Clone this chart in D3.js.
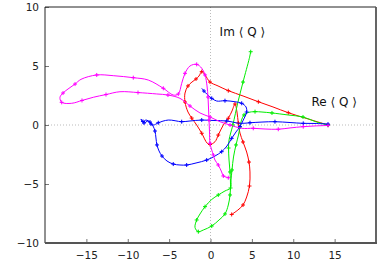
<!DOCTYPE html>
<html>
<head>
<meta charset="utf-8">
<script src="https://cdn.jsdelivr.net/npm/d3@7"></script>
<style>
  body { margin: 0; background: #fff; }
  svg { display: block; }
</style>
</head>
<body>
<div id="chart"></div>
<script>
// trajectories of <Q> in the complex plane, [Re, Im] pairs
var redPath = [[14.2,0],[11.8,0.51],[9.4,1.04],[7.55,1.53],[5.78,1.97],[3.93,2.46],[2.15,2.91],[0.91,3.31],[-0.06,3.64],[-0.66,4.24],[-1.06,4.52],[-1.39,4.15],[-1.75,3.9],[-2.24,3.64],[-2.72,3.31],[-3.08,2.71],[-3.08,1.95],[-2.72,1.1],[-2.27,0.59],[-1.67,0],[-1.06,-0.7],[-0.39,-1.55],[-0.06,-1.65],[0.54,-1.42],[0.94,-0.85],[1.55,0],[2.15,0.57],[2.6,1.19],[2.96,1.78],[3.2,1.1],[3.36,0.17],[3.56,-0.68],[3.93,-1.44],[4.37,-2.29],[4.65,-3.14],[4.77,-3.98],[4.71,-5.17],[4.37,-6.1],[3.93,-6.78],[3.32,-7.2],[2.56,-7.58]];

var greenPath = [[14.2,0],[12.63,0.3],[11.18,0.68],[9.37,0.85],[7.43,1.02],[6.22,1.1],[5.38,1.13],[4.53,1.06],[4.05,0.85],[3.75,0.42],[3.56,-0.17],[3.38,-0.85],[3.08,-1.69],[2.78,-2.71],[2.6,-3.81],[2.48,-4.66],[2.42,-5.34],[1.75,-5.59],[0.94,-5.93],[0.15,-6.31],[-0.66,-6.92],[-1.27,-7.54],[-1.67,-8.05],[-1.87,-8.69],[-1.47,-9.04],[-0.87,-8.9],[0.15,-8.56],[1.03,-8.05],[1.75,-7.54],[2.15,-6.78],[2.36,-5.93],[2.42,-5.08],[2.36,-3.98],[2.24,-2.97],[2.18,-1.95],[2.24,-1.27],[2.7,0],[3.32,1.95],[3.93,3.64],[4.69,5.65],[4.86,6.21]];

var bluePath = [[14.2,0.08],[12.63,0.13],[11.21,0.14],[9.61,0.21],[7.79,0.28],[6.22,0.25],[4.77,0.19],[3.56,0.14],[1.96,0.34],[0.42,0.38],[-1.06,0.42],[-2.48,0.34],[-3.48,0.28],[-5.1,0.42],[-6.31,0.19],[-6.91,0],[-7.31,0.25],[-7.79,0.42],[-8.16,0.3],[-8.4,0.51],[-8.04,0.17],[-7.55,0.34],[-7.19,0.08],[-6.95,-0.08],[-6.71,-0.51],[-6.59,-1.1],[-6.47,-1.69],[-6.22,-2.2],[-5.86,-2.63],[-5.26,-3.05],[-4.5,-3.31],[-3.69,-3.39],[-2.88,-3.39],[-1.75,-3.22],[-0.46,-2.97],[0.54,-2.63],[1.35,-2.26],[1.99,-1.78],[2.56,-1.13],[3.08,-0.59],[3.56,-0.14],[3.96,0.42],[4.37,1.1],[4.29,1.53],[3.77,1.84],[2.96,1.97],[1.75,2.06],[0.75,2.03],[0.15,2.26],[-0.46,2.63],[-0.79,2.88],[-1.06,3.11]];

var magentaPath = [[14.2,-0.04],[12.63,-0.08],[11.21,-0.14],[9.61,-0.25],[8.19,-0.36],[6.59,-0.34],[5.17,-0.28],[3.77,-0.28],[2.36,0],[1.15,0.28],[-0.06,0.68],[-1.27,1.02],[-2.48,1.61],[-3.69,2.26],[-5.14,2.54],[-6.5,2.63],[-8.76,2.75],[-10.94,2.82],[-12.63,2.58],[-14.16,2.35],[-15.53,2.08],[-16.77,1.84],[-17.98,1.92],[-18.19,2.35],[-17.82,2.71],[-17.1,3.11],[-16.37,3.47],[-15.65,3.87],[-13.75,4.24],[-11.75,4.18],[-9.33,4.01],[-7.52,3.81],[-5.7,3.11],[-4.5,2.54],[-3.89,2.63],[-3.48,3.53],[-3.08,4.38],[-2.48,5.0],[-1.67,5.14],[-1.06,4.81],[-0.66,4.24],[-0.42,3.31],[-0.3,2.37],[-0.24,1.44],[-0.18,0.42],[-0.12,-0.59],[-0.06,-1.55],[0.15,-2.12],[0.34,-2.54],[0.54,-2.97],[0.94,-3.39],[1.35,-3.98],[1.55,-4.32],[1.96,-4.43],[2.15,-4.47]];

var xTicks = [-15, -10, -5, 0, 5, 10, 15];
var yTicks = [-10, -5, 0, 5, 10];

var series = [
  { path: redPath, color: "#ff0000" },
  { path: greenPath, color: "#00ee00" },
  { path: bluePath, color: "#0000ff" },
  { path: magentaPath, color: "#ff00ff" }
];

var svgWidth = 389, svgHeight = 273;
var margin = { top: 7, right: 13, bottom: 30, left: 45 };
var w = svgWidth - margin.left - margin.right;
var h = svgHeight - margin.top - margin.bottom;

var svg = d3.select("#chart").append("svg")
  .attr("width", svgWidth)
  .attr("height", svgHeight);

var chart = svg.append("g")
  .attr("transform", "translate(" + margin.left + "," + margin.top + ")");

var x = d3.scaleLinear().domain([-20, 20]).range([0, w]);
var y = d3.scaleLinear().domain([-10, 10]).range([h, 0]);

// zero lines
chart.append("line")
  .attr("x1", 0).attr("x2", w).attr("y1", y(0)).attr("y2", y(0))
  .attr("stroke", "#aaa").attr("stroke-width", 0.8).attr("stroke-dasharray", "1,2");
chart.append("line")
  .attr("x1", x(0)).attr("x2", x(0)).attr("y1", 0).attr("y2", h)
  .attr("stroke", "#aaa").attr("stroke-width", 0.8).attr("stroke-dasharray", "1,2");

// axes, ticks inward
var yAxis = chart.append("g")
  .call(d3.axisLeft(y).tickValues(yTicks).tickSizeInner(-4).tickSizeOuter(0).tickPadding(6));
var xAxis = chart.append("g")
  .attr("transform", "translate(0," + h + ")")
  .call(d3.axisBottom(x).tickValues(xTicks).tickSizeInner(-4).tickSizeOuter(0).tickPadding(9));

[xAxis, yAxis].forEach(function(a) {
  a.select(".domain").remove();
  a.selectAll(".tick line").attr("stroke", "#777");
  a.selectAll(".tick text")
    .attr("fill", "#222")
    .style("font-family", "'DejaVu Sans', sans-serif")
    .style("font-size", "10.5px");
});

// border
chart.append("line").attr("x1", 0).attr("x2", w).attr("y1", 0).attr("y2", 0)
  .attr("stroke", "#222").attr("stroke-width", 1);
chart.append("line").attr("x1", 0).attr("x2", 0).attr("y1", 0).attr("y2", h)
  .attr("stroke", "#222").attr("stroke-width", 1);
chart.append("line").attr("x1", 0).attr("x2", w + 1).attr("y1", h).attr("y2", h)
  .attr("stroke", "#555").attr("stroke-width", 1.8);
chart.append("line").attr("x1", w).attr("x2", w).attr("y1", 0).attr("y2", h)
  .attr("stroke", "#555").attr("stroke-width", 1.8);

var line = d3.line()
  .x(function(d) { return x(d[0]); })
  .y(function(d) { return y(d[1]); })
  .curve(d3.curveCatmullRom.alpha(0.5));

series.forEach(function(s) {
  chart.append("path")
    .datum(s.path)
    .attr("fill", "none")
    .attr("stroke", s.color)
    .attr("stroke-width", 1)
    .attr("d", line);

  // point markers on every other sample
  chart.selectAll(null)
    .data(s.path.filter(function(d, i) { return i % 2 === 0; }))
    .enter()
    .append("path")
    .attr("transform", function(d) { return "translate(" + x(d[0]) + "," + y(d[1]) + ")"; })
    .attr("d", "M-2,0H2M0,-2V2")
    .attr("stroke", s.color)
    .attr("stroke-width", 1)
    .attr("fill", "none");
});

// labels
chart.append("text")
  .attr("x", x(1.1)).attr("y", y(7.9))
  .attr("dy", "0.35em")
  .style("font-family", "'DejaVu Sans', sans-serif")
  .style("font-size", "12px")
  .attr("fill", "#111")
  .text("Im \u27E8 Q \u27E9");

chart.append("text")
  .attr("x", x(12.2)).attr("y", y(1.97))
  .attr("dy", "0.35em")
  .style("font-family", "'DejaVu Sans', sans-serif")
  .style("font-size", "12px")
  .attr("fill", "#111")
  .text("Re \u27E8 Q \u27E9");
</script>
</body>
</html>
